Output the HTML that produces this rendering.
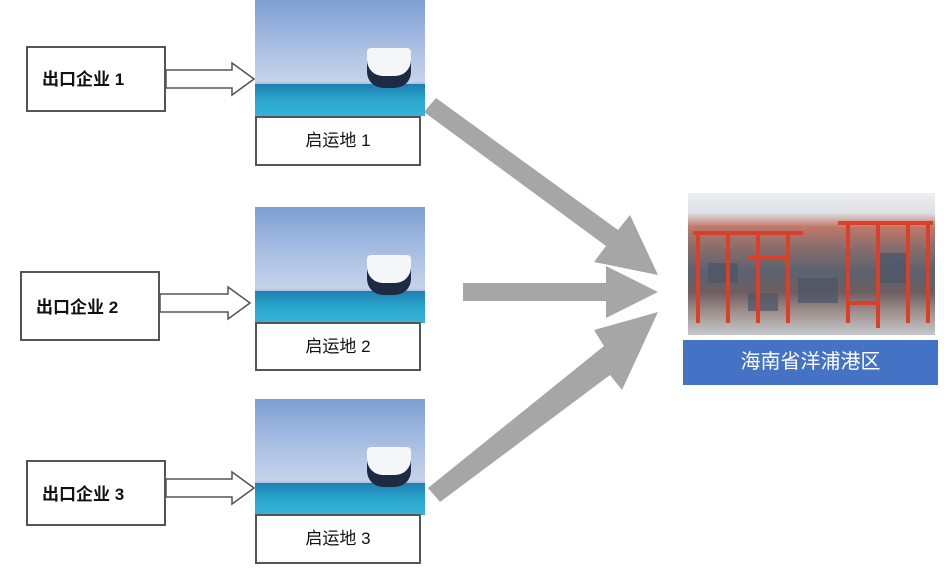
<!DOCTYPE html>
<html><head><meta charset="utf-8"><style>
body{margin:0;width:944px;height:572px;background:#fff;position:relative;overflow:hidden;font-family:"Liberation Sans","Noto Sans CJK SC",sans-serif}
.b{position:absolute;border:2px solid #555;background:#fff;box-sizing:border-box;font-weight:bold;font-size:17px;color:#111}
.img{position:absolute;width:170px;height:116px;background:linear-gradient(#7d9fd3 0%,#a9bfe3 40%,#c5d3ea 70%,#9bb4de 74%)}
.sea{position:absolute;left:0;right:0;bottom:0;height:32px;background:linear-gradient(#1c7fb0,#2ba6cf 50%,#35b3d6)}
.ship{position:absolute;left:112px;top:48px;width:44px;height:40px;background:#f4f6f8;border-radius:4px 4px 16px 16px;box-shadow:inset 0 -12px 0 #1d2a44}
</style></head><body>
<div class="b" style="left:26px;top:46px;width:140px;height:66px;padding:17px 0 0 14px">出口企业 1</div>
<div class="b" style="left:20px;top:271px;width:140px;height:70px;padding:20px 0 0 14px">出口企业 2</div>
<div class="b" style="left:26px;top:460px;width:140px;height:66px;padding:18px 0 0 14px">出口企业 3</div>

<svg width="944" height="572" style="position:absolute;left:0;top:0">
<g fill="#fff" stroke="#555" stroke-width="1.5">
<polygon points="166,70 232,70 232,63 254,79 232,95 232,88 166,88"/>
<polygon points="160,294 228,294 228,287 250,303 228,319 228,312 160,312"/>
<polygon points="166,479 232,479 232,472 254,488 232,504 232,497 166,497"/>
</g>
<g fill="#a6a6a6">
<polygon points="424,112 436,98 618,230 630,215 658,275 594,262 606,246"/>
<polygon points="463,283 606,283 606,266 658,292 606,318 606,301 463,301"/>
<polygon points="428,488 440,502 610,375 622,390 658,312 594,330 604,346"/>
</g>
</svg>

<div class="img" style="left:255px;top:0"><div class="sea"></div><div class="ship"></div></div>
<div class="b" style="left:255px;top:116px;width:166px;height:50px;text-align:center;line-height:46px;font-weight:normal">启运地 1</div>
<div class="img" style="left:255px;top:207px"><div class="sea"></div><div class="ship"></div></div>
<div class="b" style="left:255px;top:322px;width:166px;height:49px;text-align:center;line-height:45px;font-weight:normal">启运地 2</div>
<div class="img" style="left:255px;top:399px"><div class="sea"></div><div class="ship"></div></div>
<div class="b" style="left:255px;top:514px;width:166px;height:50px;text-align:center;line-height:46px;font-weight:normal">启运地 3</div>

<div style="position:absolute;left:688px;top:193px;width:247px;height:142px;background:linear-gradient(#eceff1 0%,#dde0e4 14%,#c07868 24%,#8a6e6c 38%,#5b6270 55%,#6e5e62 70%,#9a8a86 82%,#c4c8cb 100%)"></div>
<svg width="247" height="142" style="position:absolute;left:688px;top:193px">
<g fill="#4a5668" opacity="0.7">
<rect x="20" y="70" width="30" height="20"/><rect x="110" y="85" width="40" height="25"/><rect x="60" y="100" width="30" height="18"/><rect x="190" y="60" width="30" height="30"/>
</g>
<g stroke="#d8402a" stroke-width="4" fill="none">
<path d="M5 40h110M10 40v90M40 40v90M70 40v90M100 40v90"/>
<path d="M150 30h95M160 30v100M190 30v100M220 30v100M240 30v100"/>
<path d="M60 65h40v55M160 110h30v25"/>
</g></svg>
<div style="position:absolute;left:683px;top:340px;width:255px;height:45px;background:#4472c4;color:#fff;font-size:20px;text-align:center;line-height:45px">海南省洋浦港区</div>
</body></html>
